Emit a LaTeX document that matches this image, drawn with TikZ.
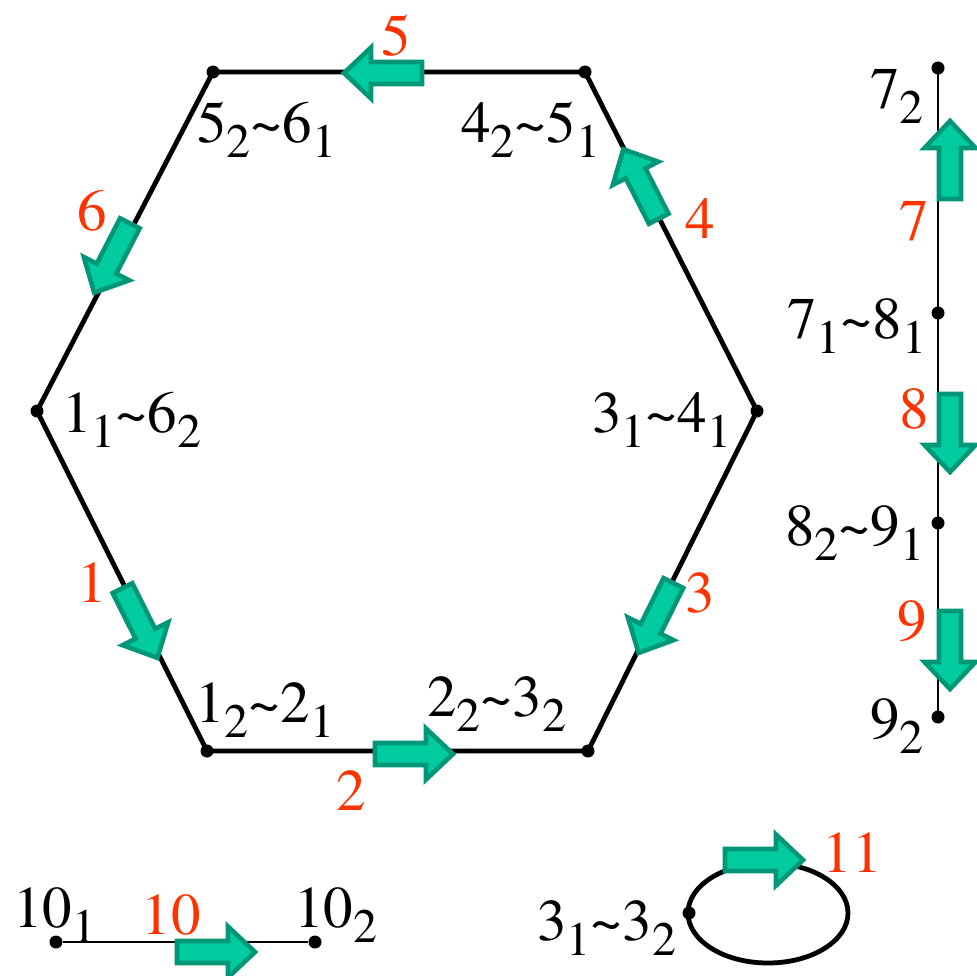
\documentclass[tikz,border=0pt]{standalone}
\usepackage{fontspec}
\setmainfont{texgyretermes-regular.otf}
\usepackage{tikz}
\definecolor{flowteal}{RGB}{0,204,160}
\definecolor{flowedge}{RGB}{0,150,120}
\definecolor{numred}{RGB}{255,51,0}
\newcommand{\lowsub}[1]{\raisebox{-7.5pt}{\fontsize{24}{24}\selectfont #1}}
\newcommand{\tld}{\textasciitilde}

\begin{document}
\begin{tikzpicture}[
    x=0.5pt, y=-0.5pt,
    every node/.style={font=\fontsize{29.5}{32}\selectfont},
    vertex/.style={circle, fill=black, inner sep=0pt, minimum size=6.5pt},
    lbl/.style={inner sep=0pt, anchor=base west},
    num/.style={inner sep=0pt, anchor=base, text=numred},
    edge/.style={line width=2.4pt, line join=round},
    thinedge/.style={line width=1.1pt},
    arrowbody/.style={fill=flowteal, draw=flowedge, line width=2.3pt, line join=miter},
    flowarrow/.pic={
        \draw[arrowbody] (-39,-11) -- (12,-11) -- (12,-25.5) -- (39,0)
            -- (12,25.5) -- (12,11) -- (-39,11) -- cycle;
    }
]
    \useasboundingbox (0,0) rectangle (977,975);

    % Hexagon
    \node[vertex] (v56) at (213,72) {};
    \node[vertex] (v45) at (585,72) {};
    \node[vertex] (v34) at (757,411) {};
    \node[vertex] (v23) at (588,751) {};
    \node[vertex] (v12) at (207,751) {};
    \node[vertex] (v16) at (37,411) {};
    \draw[edge] (v16.center) -- (v56.center) -- (v45.center) -- (v34.center)
        -- (v23.center) -- (v12.center) -- cycle;

    \node[lbl] (l56) at (197,142) {5\lowsub{2}\tld 6\lowsub{1}};
    \node[lbl] (l45) at (461,142) {4\lowsub{2}\tld 5\lowsub{1}};
    \node[lbl] (l16) at (62,432) {1\lowsub{1}\tld 6\lowsub{2}};
    \node[lbl] (l34) at (592,432) {3\lowsub{1}\tld 4\lowsub{1}};
    \node[lbl] (l12) at (195,722) {1\lowsub{2}\tld 2\lowsub{1}};
    \node[lbl] (l23) at (427,716) {2\lowsub{2}\tld 3\lowsub{2}};

    % Flow on the hexagon
    \pic[rotate=-63.4] (a1) at (140,623) {flowarrow};
    \pic (a2) at (414,754) {flowarrow};
    \pic[rotate=-116.5] (a3) at (656,618) {flowarrow};
    \pic[rotate=117] (a4) at (641,184) {flowarrow};
    \pic[rotate=180] (a5) at (383,73) {flowarrow};
    \pic[rotate=-117.2] (a6) at (112,258) {flowarrow};

    \node[num] (n1) at (92,602) {1};
    \node[num] (n2) at (351,810) {2};
    \node[num] (n3) at (700,612) {3};
    \node[num] (n4) at (700,238) {4};
    \node[num] (n5) at (396,55) {5};
    \node[num] (n6) at (92,230) {6};

    % Chain 7-8-9
    \node[vertex] (p72) at (938,68) {};
    \node[vertex] (p78) at (938,313) {};
    \node[vertex] (p89) at (938,523) {};
    \node[vertex] (p92) at (938,717) {};
    \draw[thinedge] (p72.center) -- (p78.center) -- (p89.center) -- (p92.center);

    \node[lbl] (l72) at (870,108) {7\lowsub{2}};
    \node[lbl] (l78) at (787,338) {7\lowsub{1}\tld 8\lowsub{1}};
    \node[lbl] (l89) at (785,545) {8\lowsub{2}\tld 9\lowsub{1}};
    \node[lbl] (l92) at (870,738) {9\lowsub{2}};

    \pic[rotate=90] (a7) at (950,160) {flowarrow};
    \pic[rotate=-90] (a8) at (950,433) {flowarrow};
    \pic[rotate=-90] (a9) at (950,650) {flowarrow};

    \node[num] (n7) at (914,240) {7};
    \node[num] (n8) at (914,428) {8};
    \node[num] (n9) at (912,640) {9};

    % Segment 10
    \node[vertex] (s101) at (56,942) {};
    \node[vertex] (s102) at (315,942) {};
    \draw[thinedge] (s101) -- (s102);
    \node[lbl] (l101) at (13,927) {10\lowsub{1}};
    \node[lbl] (l102) at (294,927) {10\lowsub{2}};
    \pic (a10) at (216,952) {flowarrow};
    \node[num] (n10) at (171,934) {10};

    % Loop 11
    \coordinate (loop) at (768,913);
    \draw[edge] (loop) ellipse [x radius=80, y radius=50];
    \node[vertex] (w33) at (689,913) {};
    \node[lbl] (l33) at (537,940) {3\lowsub{1}\tld 3\lowsub{2}};
    \pic (a11) at (764,860) {flowarrow};
    \node[num] (n11) at (852,872) {11};
\end{tikzpicture}
\end{document}
